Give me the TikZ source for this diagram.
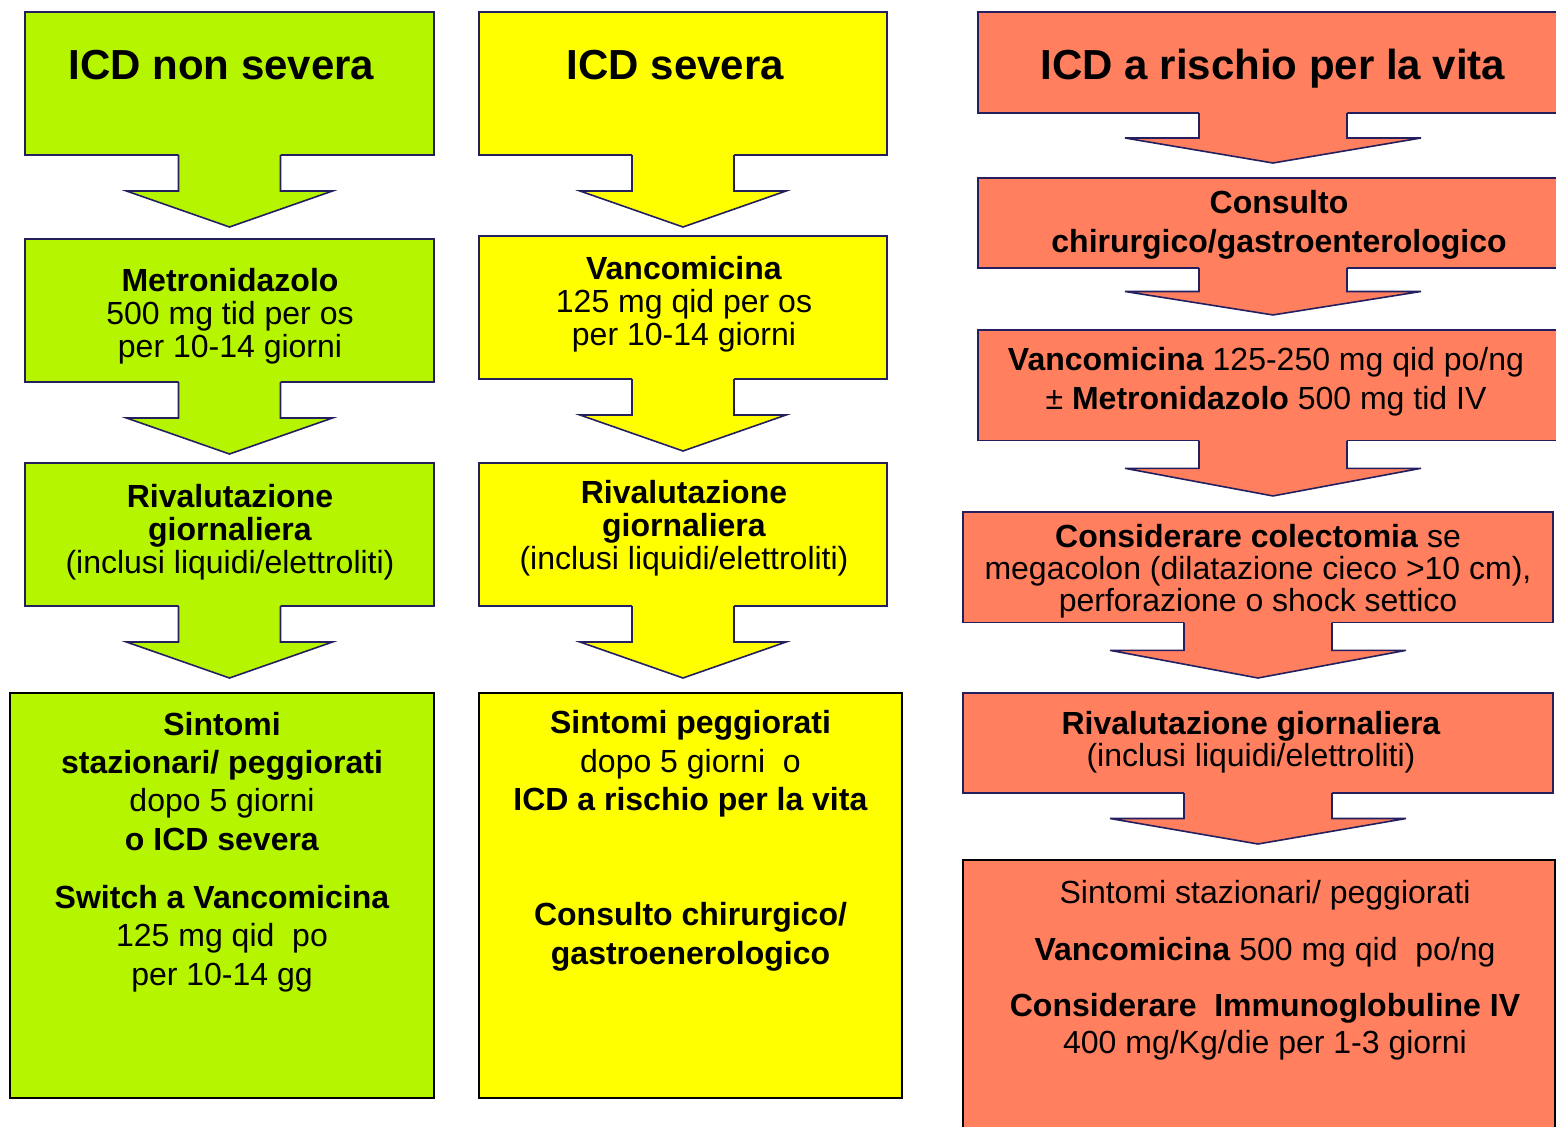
\documentclass[tikz,border=0pt]{standalone}
\usepackage{fontspec}
\setmainfont{Liberation Sans}
\usepackage{tikz}
\usetikzlibrary{calc}

\definecolor{limefill}{RGB}{181,245,0}
\definecolor{yelfill}{RGB}{255,255,0}
\definecolor{salmonfill}{RGB}{255,127,95}
\definecolor{navyline}{RGB}{36,32,96}

\tikzset{
    box/.style={draw=navyline, line width=1.6pt, inner sep=0pt, outer sep=0pt},
    endbox/.style={draw=black, line width=1.6pt, inner sep=0pt, outer sep=0pt},
    arrline/.style={draw=navyline, line width=1.6pt},
    ttl/.style={anchor=base, inner sep=0pt, font={\fontsize{42}{48}\selectfont\bfseries}},
    lbl/.style={anchor=base, inner sep=0pt, align=center, font={\fontsize{32}{#1}\selectfont}},
    lbl/.default=33
}

% #1 from, #2 to, #3 fill, #4 half shaft, #5 half head, #6 gap
\newcommand{\blockarrow}[6]{%
    \path (#1.south) coordinate (bas) ($(#1.south |- #2.north)+(0,-#6)$) coordinate (bat);
    \path ($(bas)!0.5!(bat)$) coordinate (bah);
    \fill[#3] ($(bas)+(-#4,-2)$) -- ($(bah)+(-#4,0)$) -- ($(bah)+(-#5,0)$) -- (bat) -- ($(bah)+(#5,0)$) -- ($(bah)+(#4,0)$) -- ($(bas)+(#4,-2)$) -- cycle;
    \draw[arrline] ($(bas)+(-#4,0)$) -- ($(bah)+(-#4,0)$) -- ($(bah)+(-#5,0)$) -- (bat) -- ($(bah)+(#5,0)$) -- ($(bah)+(#4,0)$) -- ($(bas)+(#4,0)$);
}

\begin{document}
\begin{tikzpicture}[x=1pt, y=-1pt]
    \path[use as bounding box, clip] (0,0) rectangle (1556,1127);

    \node[box, fill=limefill, minimum width=409, minimum height=143] (g1) at (229.5, 83.5) {};
    \node[box, fill=limefill, minimum width=409, minimum height=143] (g2) at (229.5, 310.5) {};
    \node[box, fill=limefill, minimum width=409, minimum height=143] (g3) at (229.5, 534.5) {};
    \node[endbox, fill=limefill, minimum width=424, minimum height=405] (g4) at (222, 895.5) {};

    \node[box, fill=yelfill, minimum width=408, minimum height=143] (y1) at (683, 83.5) {};
    \node[box, fill=yelfill, minimum width=408, minimum height=143] (y2) at (683, 307.5) {};
    \node[box, fill=yelfill, minimum width=408, minimum height=143] (y3) at (683, 534.5) {};
    \node[endbox, fill=yelfill, minimum width=423, minimum height=405] (y4) at (690.5, 895.5) {};

    \node[box, fill=salmonfill, minimum width=590, minimum height=101] (r1) at (1273, 62.5) {};
    \node[box, fill=salmonfill, minimum width=590, minimum height=90] (r2) at (1273, 223) {};
    \node[box, fill=salmonfill, minimum width=590, minimum height=110.7] (r3) at (1273, 385.3) {};
    \node[box, fill=salmonfill, minimum width=590, minimum height=110.7] (r4) at (1258, 567.3) {};
    \node[box, fill=salmonfill, minimum width=590, minimum height=100] (r5) at (1258, 743) {};
    \node[endbox, fill=salmonfill, minimum width=592, minimum height=280] (r6) at (1259, 1000) {};

    \blockarrow{g1}{g2}{limefill}{51}{103}{12}
    \blockarrow{g2}{g3}{limefill}{51}{103}{9}
    \blockarrow{g3}{g4}{limefill}{51}{103}{15}
    \blockarrow{y1}{y2}{yelfill}{51}{103}{9}
    \blockarrow{y2}{y3}{yelfill}{51}{103}{12}
    \blockarrow{y3}{y4}{yelfill}{51}{103}{15}
    \blockarrow{r1}{r2}{salmonfill}{74}{148}{15}
    \blockarrow{r2}{r3}{salmonfill}{74}{148}{15}
    \blockarrow{r3}{r4}{salmonfill}{74}{148}{16}
    \blockarrow{r4}{r5}{salmonfill}{74}{148}{15}
    \blockarrow{r5}{r6}{salmonfill}{74}{148}{16}

    \node[ttl] (g1t) at (221.5, 79) {ICD non severa};
    \node[lbl] (g2t) at (230, 357) {\textbf{Metronidazolo}\\500 mg tid per os\\per 10-14 giorni};
    \node[lbl] (g3t) at (230, 573) {\textbf{Rivalutazione}\\\textbf{giornaliera}\\(inclusi liquidi/elettroliti)};
    \node[lbl=38.3] (g4t) at (222, 985) {\textbf{Sintomi}\\\textbf{stazionari/ peggiorati}\\dopo 5 giorni\\\textbf{o ICD severa}\\[20pt]\textbf{Switch a Vancomicina}\\125 mg qid\ \ po\\per 10-14 gg};

    \node[ttl] (y1t) at (675.5, 79) {ICD severa};
    \node[lbl] (y2t) at (684, 345) {\textbf{Vancomicina}\\125 mg qid per os\\per 10-14 giorni};
    \node[lbl] (y3t) at (684, 569) {\textbf{Rivalutazione}\\\textbf{giornaliera}\\(inclusi liquidi/elettroliti)};
    \node[lbl=38.3] (y4t) at (690.5, 964) {\textbf{Sintomi peggiorati}\\dopo 5 giorni\ \ o\\\textbf{ICD a rischio per la vita}\\[77pt]\textbf{Consulto chirurgico/}\\\textbf{gastroenerologico}};

    \node[ttl] (r1t) at (1273, 79) {ICD a rischio per la vita};
    \node[lbl=39.4] (r2t) at (1279, 252.7) {\textbf{Consulto}\\\textbf{chirurgico/gastroenterologico}};
    \node[lbl=38.6] (r3t) at (1266, 409.3) {\textbf{Vancomicina} 125-250 mg qid po/ng\\± \textbf{Metronidazolo} 500 mg tid IV};
    \node[lbl=32] (r4t) at (1258, 611.7) {\textbf{Considerare colectomia} se\\megacolon (dilatazione cieco >10 cm),\\perforazione o shock settico};
    \node[lbl=32.7] (r5t) at (1251, 766.7) {\textbf{Rivalutazione giornaliera}\\(inclusi liquidi/elettroliti)};
    \node[lbl=36.6] (r6t) at (1265, 1053.3) {Sintomi stazionari/ peggiorati\\[20pt]\textbf{Vancomicina} 500 mg qid\ \ po/ng\\[20pt]\textbf{Considerare\ \ Immunoglobuline IV}\\400 mg/Kg/die per 1-3 giorni};
\end{tikzpicture}
\end{document}
